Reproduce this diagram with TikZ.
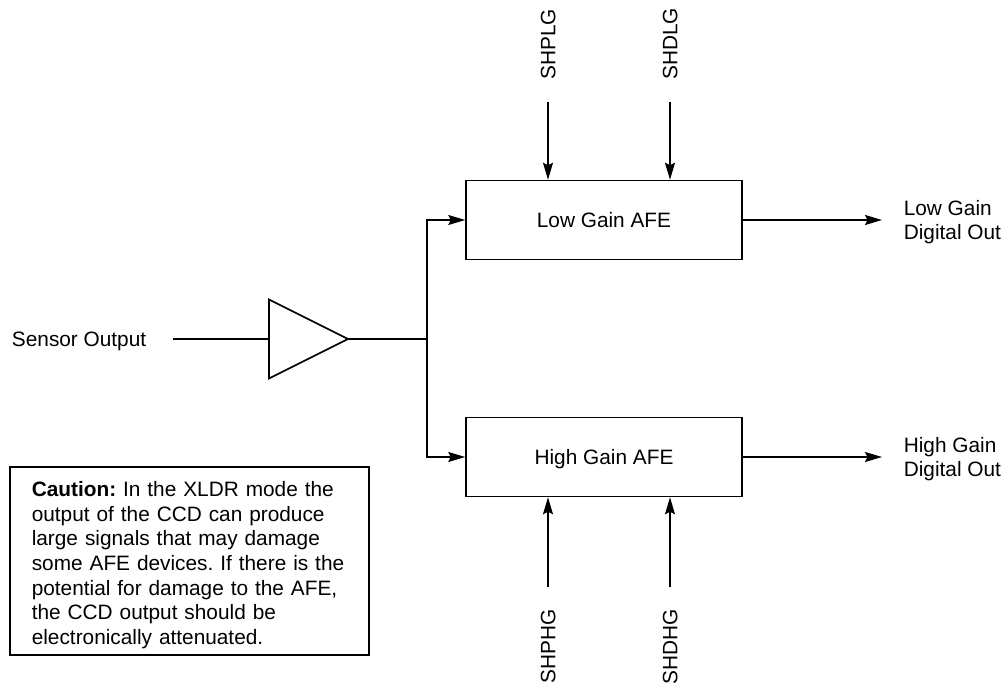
\documentclass[tikz,border=0pt]{standalone}
\usepackage{fontspec}
\setmainfont{Liberation Sans}
\usetikzlibrary{shapes.geometric, arrows.meta, positioning, calc}
\newcommand{\blockfont}{\fontsize{11.85pt}{14pt}\selectfont\frenchspacing}

\begin{document}
\begin{tikzpicture}[x=0.02cm, y=-0.02cm, line width=0.9pt,
  afe/.style={draw, minimum width=5.52cm, minimum height=1.58cm,
    inner sep=0pt, text depth=0pt, font=\blockfont},
  amp/.style={draw, isosceles triangle, isosceles triangle stretches,
    minimum width=1.58cm, minimum height=1.58cm, inner sep=0pt, outer sep=0pt},
  lbl/.style={inner ysep=0pt, text depth=0pt, align=left, font=\blockfont},
  sigv/.style={rotate=90, inner ysep=0pt, inner xsep=0.43cm, text depth=0pt, font=\blockfont},
  sig/.style={-{Stealth[length=3.4mm, width=2mm, inset=0.5mm]}}]

  % page size as in the reference
  \useasboundingbox (0,0) rectangle (1005,683);

  % AFE blocks
  \node[afe] (lowafe) at (604,220) {Low Gain AFE};
  \node[afe] (highafe) at (604,457) {High Gain AFE};

  % input buffer
  \node[amp, anchor=west] (amp) at (269,339) {};
  \node[lbl, anchor=east, inner xsep=0.52cm] (sensor) at (173,339) {Sensor Output};
  \draw (sensor.east) -- (amp.west);

  % split to both AFEs
  \coordinate (split) at (427,339);
  \draw (amp.apex) -- (split);
  \draw[sig] (split) |- (lowafe.west);
  \draw[sig] (split) |- (highafe.west);

  % digital outputs
  \node[lbl, anchor=west, inner xsep=0.42cm] (lowout) at (882,220) {Low Gain\\Digital Out};
  \node[lbl, anchor=west, inner xsep=0.42cm] (highout) at (882,457) {High Gain\\Digital Out};
  \draw[sig] (lowafe.east) -- (lowout.west);
  \draw[sig] (highafe.east) -- (highout.west);

  % clock inputs, low gain side
  \node[sigv, anchor=west] (shplg) at (548,102) {SHPLG};
  \node[sigv, anchor=west] (shdlg) at (670,102) {SHDLG};
  \draw[sig] (shplg.west) -- (shplg.west |- lowafe.north);
  \draw[sig] (shdlg.west) -- (shdlg.west |- lowafe.north);

  % clock inputs, high gain side
  \node[sigv, anchor=east] (shphg) at (548,587) {SHPHG};
  \node[sigv, anchor=east] (shdhg) at (670,587) {SHDHG};
  \draw[sig] (shphg.east) -- (shphg.east |- highafe.south);
  \draw[sig] (shdhg.east) -- (shdhg.east |- highafe.south);

  % caution note
  \node[draw, anchor=north west, text width=6.3cm, inner xsep=0.44cm,
        minimum height=3.76cm, align=left, font=\blockfont] (caution) at (9,466)
    {\textbf{Caution:} In the XLDR mode the\\
     output of the CCD can produce\\
     large signals that may damage\\
     some AFE devices. If there is the\\
     potential for damage to the AFE,\\
     the CCD output should be\\
     electronically attenuated.\vspace{-5pt}};

\end{tikzpicture}
\end{document}
